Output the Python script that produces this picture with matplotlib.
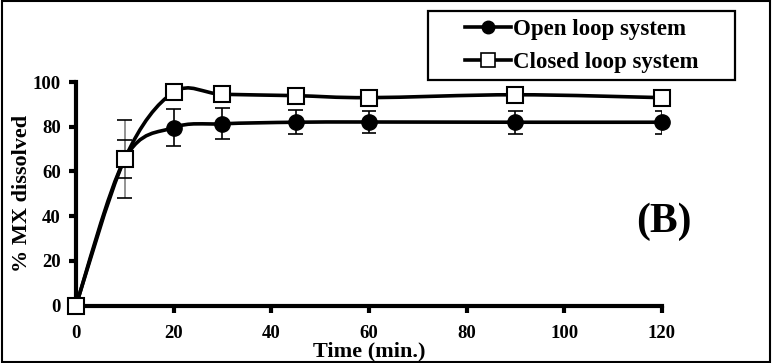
import matplotlib
matplotlib.use("Agg")
import matplotlib.pyplot as plt
import numpy as np
from matplotlib.path import Path
from matplotlib.patches import PathPatch, Rectangle
from matplotlib.lines import Line2D

time = [0, 10, 20, 30, 45, 60, 90, 120]
open_loop = [0, 65.5, 79.6, 81.3, 82.0, 82.1, 82.0, 82.0]
open_err = [0, 17.3, 8.4, 7.0, 5.4, 5.0, 5.1, 5.1]
closed_loop = [0, 65.7, 95.4, 94.5, 93.9, 93.0, 94.3, 93.0]
closed_err = [0, 8.5, 0, 0, 0, 0, 0, 0]
xticks = [0, 20, 40, 60, 80, 100, 120]
yticks = [0, 20, 40, 60, 80, 100]

plt.rcParams['font.family'] = ['Liberation Serif', 'DejaVu Serif']
plt.rcParams['font.weight'] = 'bold'


def smooth_path(x, y):
    # catmull-rom style bezier, like excel's "smoothed line"
    p = np.column_stack([x, y]).astype(float)
    n = len(p)
    verts = [p[0]]
    codes = [Path.MOVETO]
    for i in range(n - 1):
        p0 = p[i - 1] if i > 0 else p[i]
        p3 = p[i + 2] if i + 2 < n else p[i + 1]
        c1 = p[i] + (p[i + 1] - p0) / 6
        c2 = p[i + 1] - (p3 - p[i]) / 6
        verts += [c1, c2, p[i + 1]]
        codes += [Path.CURVE4] * 3
    return Path(verts, codes)


fig = plt.figure(figsize=(7.72, 3.63), dpi=100)
ax = fig.add_axes([0.0984, 0.1584, 0.7591, 0.6157])

for ys in (open_loop, closed_loop):
    ax.add_patch(PathPatch(smooth_path(time, ys), fill=False, lw=2.6,
                           edgecolor='black', clip_on=False, zorder=2))

# error bars: grey stems at 10 min, black elsewhere
for ys, es in ((open_loop, open_err), (closed_loop, closed_err)):
    for t, v, e in zip(time, ys, es):
        if e == 0:
            continue
        col = '#808080' if t == 10 else 'black'
        ax.vlines(t, v - e, v + e, color=col, lw=1.2, zorder=1)
        ax.hlines([v - e, v + e], t - 1.5, t + 1.5, color='black', lw=1.2, zorder=1)

ax.plot(time, open_loop, 'o', color='black', ms=11, clip_on=False, zorder=3)
ax.plot(time, closed_loop, 's', mfc='white', mec='black', mew=1.5, ms=11,
        clip_on=False, zorder=4)

ax.set_xlim(0, 120)
ax.set_ylim(0, 100)
ax.set_xticks(xticks)
ax.set_yticks(yticks)
for s in ('top', 'right'):
    ax.spines[s].set_visible(False)
for s in ('left', 'bottom'):
    ax.spines[s].set_linewidth(3)
ax.tick_params(width=3, length=5, labelsize=13.5)
ax.tick_params(axis='x', pad=9)
ax.tick_params(axis='y', pad=6)
for lab in ax.get_xticklabels() + ax.get_yticklabels():
    lab.set_fontweight('bold')

ax.set_xlabel('Time (min.)', fontsize=16, fontweight='bold')
ax.xaxis.set_label_coords(0.5, -0.16)
ax.set_ylabel('% MX dissolved', fontsize=16, fontweight='bold')
ax.yaxis.set_label_coords(-0.075, 0.5)

fig.text(0.86, 0.39, '(B)', fontsize=30, fontweight='bold', ha='center', va='center')

handles = [
    Line2D([], [], color='black', lw=2.6, marker='o', ms=9),
    Line2D([], [], color='black', lw=2.6, marker='s', mfc='white', mec='black', mew=1.2, ms=10),
]
leg = fig.legend(handles, ['Open loop system', 'Closed loop system'],
                 loc='center left', bbox_to_anchor=(465 / 772, 1 - 46 / 363),
                 borderaxespad=0, borderpad=0, frameon=False,
                 prop={'size': 16.5, 'weight': 'bold'}, handlelength=2.0,
                 handletextpad=0.1, labelspacing=0.5)
# legend box drawn separately (wide left padding in the original)
fig.patches.append(Rectangle((428 / 772, 1 - 80 / 363), 307 / 772, 69 / 363,
                             transform=fig.transFigure, fill=False,
                             edgecolor='black', lw=1.6))

fig.patches.append(Rectangle((0.002, 0.003), 0.996, 0.994, transform=fig.transFigure,
                             fill=False, edgecolor='black', lw=1.5))

fig.savefig('out.png', dpi=100)
